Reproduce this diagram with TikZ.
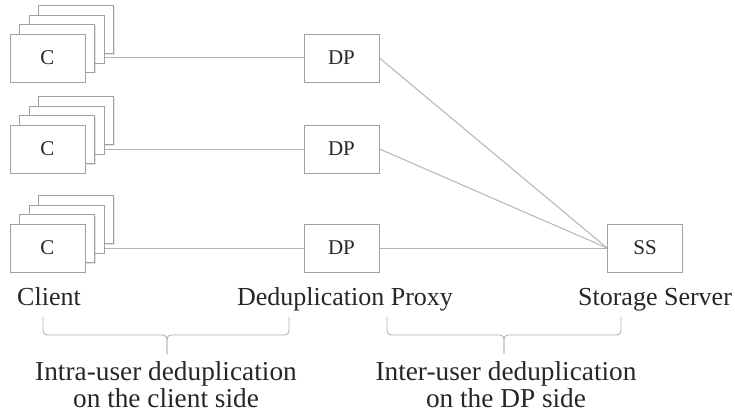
\documentclass[tikz,border=0pt]{standalone}
\usepackage{fontspec}
\setmainfont{Liberation Serif}
\usetikzlibrary{shadows}
\pgfdeclarelayer{bg}
\pgfsetlayers{bg,main}
\definecolor{edgegray}{HTML}{A0A0A0}
\definecolor{linkgray}{HTML}{B4B4B4}
\definecolor{bracegray}{HTML}{B0B0B0}
\definecolor{inkgray}{HTML}{262626}
\tikzset{
  unit/.style={draw=edgegray, line width=0.9pt, fill=white, text=inkgray,
    minimum width=75pt, minimum height=48pt, inner sep=0pt,
    font=\fontsize{21}{23}\selectfont,
    drop shadow={shadow xshift=0.9pt, shadow yshift=-0.9pt, opacity=0.22}},
  link/.style={draw=linkgray, line width=1pt},
  caption/.style={font=\fontsize{26}{28}\selectfont, text=inkgray, inner sep=0pt, anchor=base},
  note/.style={font=\fontsize{27.3}{27.5}\selectfont, text=inkgray, inner sep=0pt, anchor=north, align=center},
  bracket/.style={draw=bracegray, line width=0.9pt, rounded corners=4pt}
}
\begin{document}
\begin{tikzpicture}[x=1pt, y=-1pt]
  \useasboundingbox (0,0) rectangle (735,417);

  % client stacks: three cards behind each front card
  \foreach \r/\y in {1/58, 2/149, 3/248} {
    \foreach \k in {3,2,1} {
      \node[unit] (c\r-\k) at ({47.5+9.6*\k}, {\y-9.4*\k}) {};
    }
    \node[unit] (c\r) at (47.5, \y) {C};
  }

  % deduplication proxies and storage server
  \node[unit] (dp1) at (341.5, 58) {DP};
  \node[unit] (dp2) at (341.5, 149) {DP};
  \node[unit] (dp3) at (341.5, 248) {DP};
  \node[unit] (ss) at (645, 248) {SS};

  % connectors
  \begin{pgfonlayer}{bg}
    \foreach \r in {1,2,3} {
      \draw[link] (c\r.center) -- (dp\r.west);
      \draw[link] (dp\r.east) -- (ss.west);
    }
  \end{pgfonlayer}

  % role labels
  \node[caption] (lclient) at (49, 305) {Client};
  \node[caption] (lproxy) at (345, 305) {Deduplication Proxy};
  \node[caption] (lserver) at (655, 305) {Storage Server};

  % brackets grouping the roles
  \coordinate (b1l) at (43, 317);
  \coordinate (b1m) at (167, 354);
  \coordinate (b1r) at (289, 317);
  \draw[bracket] (b1l) |- (b1m |- 0,335) -- (b1m);
  \draw[bracket] (b1r) |- (b1m |- 0,335) -- (b1m);

  \coordinate (b2l) at (387, 317);
  \coordinate (b2m) at (504, 354);
  \coordinate (b2r) at (621, 317);
  \draw[bracket] (b2l) |- (b2m |- 0,335) -- (b2m);
  \draw[bracket] (b2r) |- (b2m |- 0,335) -- (b2m);

  % scope descriptions
  \node[note] (intra) at (166, 361) {Intra-user deduplication\\on the client side};
  \node[note] (inter) at (506, 361) {Inter-user deduplication\\on the DP side};
\end{tikzpicture}
\end{document}
